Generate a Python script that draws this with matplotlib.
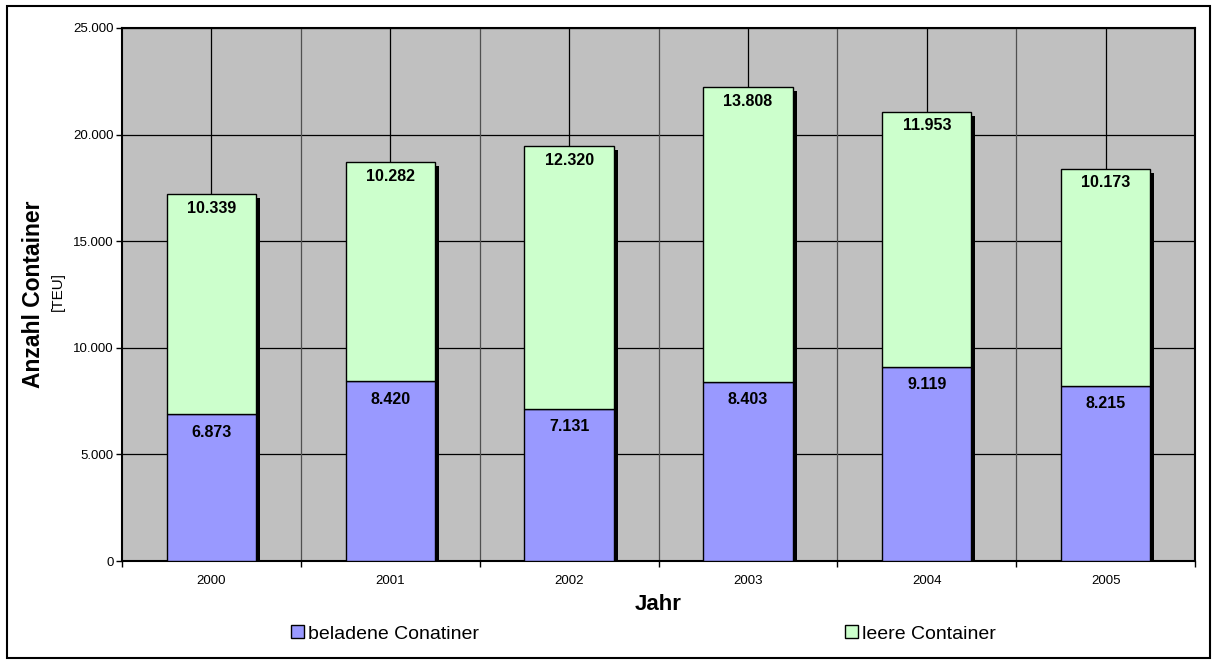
import numpy as np
import matplotlib.pyplot as plt
import matplotlib.transforms as mtransforms
from matplotlib.patches import Rectangle, Patch

plt.rcParams['font.family'] = ['Liberation Sans', 'DejaVu Sans']

# Containerumschlag pro Jahr (TEU)
jahre = ["2000", "2001", "2002", "2003", "2004", "2005"]
beladen = [6873, 8420, 7131, 8403, 9119, 8215]
leer = [10339, 10282, 12320, 13808, 11953, 10173]

col_beladen = "#9999FF"
col_leer = "#CCFFCC"


def fmt(v):
    return f"{v:,}".replace(",", ".")


fig = plt.figure(figsize=(12.16, 6.64), dpi=100)
ax = fig.add_axes([122 / 1216, 1 - 561 / 664, (1195 - 122) / 1216, (561 - 28) / 664])
ax.set_facecolor("#C0C0C0")

x = np.arange(len(jahre))
width = 0.5
total = np.array(beladen) + np.array(leer)

# grid: horizontal every 5000, vertical at centers and category borders
for yv in range(5000, 25001, 5000):
    ax.axhline(yv, color="black", lw=0.9, zorder=1)
for xv in x:
    ax.axvline(xv, color="black", lw=0.9, zorder=1)
for xv in np.arange(0.5, len(jahre) - 0.5, 1):
    ax.axvline(xv, color="#505050", lw=0.9, zorder=1)

# drop shadow behind the stacked bars
shadow = mtransforms.offset_copy(ax.transData, fig=fig, x=4, y=-4, units="dots")
ax.bar(x, total, width, color="black", zorder=2, transform=shadow)

ax.bar(x, beladen, width, color=col_beladen, edgecolor="black", lw=1.0, zorder=3)
ax.bar(x, leer, width, bottom=beladen, color=col_leer, edgecolor="black", lw=1.0, zorder=3)

lab_off = mtransforms.offset_copy(ax.transData, fig=fig, x=0, y=-18, units="dots")
lab_off2 = mtransforms.offset_copy(ax.transData, fig=fig, x=0, y=-14, units="dots")
for i in range(len(jahre)):
    ax.text(x[i], beladen[i], fmt(beladen[i]), ha="center", va="center",
            fontsize=11.5, fontweight="bold", transform=lab_off, zorder=4)
    ax.text(x[i], total[i], fmt(leer[i]), ha="center", va="center",
            fontsize=11.5, fontweight="bold", transform=lab_off2, zorder=4)

ax.set_xlim(-0.5, len(jahre) - 0.5)
ax.set_ylim(0, 25000)
ax.set_yticks(range(0, 25001, 5000))
ax.set_yticklabels([fmt(v) for v in range(0, 25001, 5000)], fontsize=9.5)
ax.set_xticks(x)
ax.set_xticklabels(jahre, fontsize=9.5)
ax.set_xticks(np.arange(-0.5, len(jahre), 1), minor=True)
ax.tick_params(axis="x", which="major", length=0, pad=10)
ax.tick_params(axis="x", which="minor", length=4, width=1, direction="out")
ax.tick_params(axis="y", length=4, width=1, direction="out", pad=2)
for s in ax.spines.values():
    s.set_linewidth(1.5)
    s.set_color("black")

ax.set_xlabel("Jahr", fontsize=16, fontweight="bold", labelpad=5)
fig.text(34 / 1216, 1 - 294 / 664, "Anzahl Container", rotation=90, ha="center",
         va="center", fontsize=16.5, fontweight="bold")
fig.text(58 / 1216, 1 - 292 / 664, "[TEU]", rotation=90, ha="center",
         va="center", fontsize=11)

# legend entries, spread along the bottom
h1 = Patch(facecolor=col_beladen, edgecolor="black", lw=1)
h2 = Patch(facecolor=col_leer, edgecolor="black", lw=1)
leg_kw = dict(frameon=False, fontsize=14, handlelength=0.65, handleheight=0.65,
              handletextpad=0.25, borderpad=0, borderaxespad=0, loc="center left")
fig.legend([h1], ["beladene Conatiner"], bbox_to_anchor=(291 / 1216, 1 - 634 / 664), **leg_kw)
fig.legend([h2], ["leere Container"], bbox_to_anchor=(845 / 1216, 1 - 634 / 664), **leg_kw)

# outer frame of the chart
fig.patches.append(Rectangle((7 / 1216, 6 / 664), 1203 / 1216, 652 / 664,
                             transform=fig.transFigure, fill=False,
                             edgecolor="black", lw=1.5))

fig.savefig("out.png", dpi=100)
